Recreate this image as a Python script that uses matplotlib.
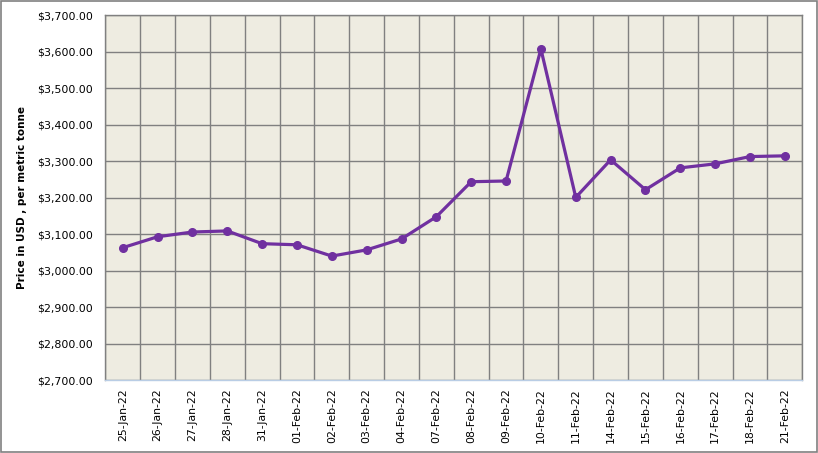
import numpy as np
import matplotlib
matplotlib.use("Agg")
from matplotlib import pyplot as plt
from matplotlib.patches import Rectangle
from matplotlib.ticker import FuncFormatter, MultipleLocator

# data
dates = ["25-Jan-22", "26-Jan-22", "27-Jan-22", "28-Jan-22", "31-Jan-22",
         "01-Feb-22", "02-Feb-22", "03-Feb-22", "04-Feb-22", "07-Feb-22",
         "08-Feb-22", "09-Feb-22", "10-Feb-22", "11-Feb-22", "14-Feb-22",
         "15-Feb-22", "16-Feb-22", "17-Feb-22", "18-Feb-22", "21-Feb-22"]
prices = [3063, 3093, 3106, 3109, 3074,
          3071, 3040, 3057, 3087, 3148,
          3244, 3246, 3608, 3201, 3304,
          3222, 3282, 3293, 3313, 3315]
y_min = 2700
y_max = 3700
y_step = 100
y_label = "Price in USD , per metric tonne"

line_color = "#7030A0"
grid_color = "#808080"
bg_color = "#EEECE1"

fig = plt.figure(figsize=(8.18, 4.53), dpi=100)
ax = fig.add_axes([0.1287, 0.1611, 0.8521, 0.8047])
ax.set_facecolor(bg_color)

x = np.arange(len(dates))
ax.plot(x, prices, color=line_color, linewidth=2.3, marker="o",
        markersize=5.5, markerfacecolor=line_color, markeredgecolor=line_color,
        zorder=3)

ax.set_xlim(-0.5, len(dates) - 0.5)
ax.set_ylim(y_min, y_max)

# category labels in the middle, grid lines on the boundaries
ax.set_xticks(x)
ax.set_xticklabels(dates, rotation=90)
ax.set_xticks(np.arange(-0.5, len(dates)), minor=True)
ax.yaxis.set_major_locator(MultipleLocator(y_step))
ax.yaxis.set_major_formatter(FuncFormatter(lambda v, p: "${:,.2f}".format(v)))

ax.tick_params(axis="x", which="major", length=0, pad=6, labelsize=7.8)
ax.tick_params(axis="x", which="minor", length=0)
ax.tick_params(axis="y", length=0, pad=9, labelsize=7.9)

ax.grid(True, axis="y", which="major", color=grid_color, linewidth=1.0)
ax.grid(True, axis="x", which="minor", color=grid_color, linewidth=1.0)
ax.grid(False, axis="x", which="major")
ax.set_axisbelow(True)

for side in ["left", "top", "right"]:
    ax.spines[side].set_color(grid_color)
    ax.spines[side].set_linewidth(1.0)
ax.spines["bottom"].set_color("#B9CDE5")
ax.spines["bottom"].set_linewidth(1.0)

ax.set_ylabel(y_label, fontsize=7.5, fontweight="bold")
ax.yaxis.set_label_coords(-0.113, 0.5)

# outer chart border
fig.patches.append(Rectangle((0.0015, 0.003), 0.997, 0.995, transform=fig.transFigure,
                             fill=False, edgecolor=grid_color, linewidth=1.2))

fig.savefig("out.png", dpi=100)
